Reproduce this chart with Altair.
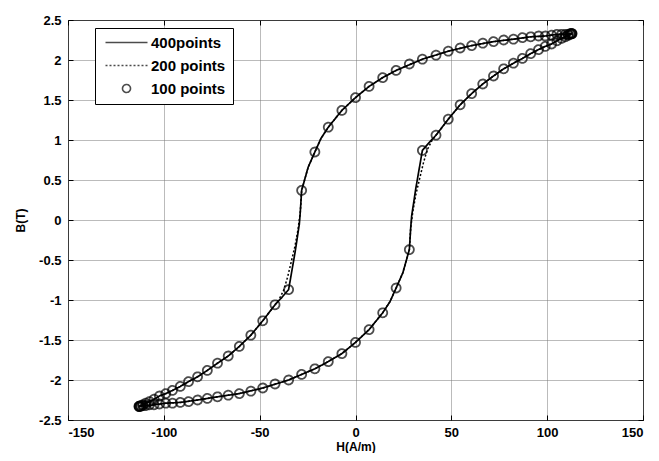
import altair as alt
import pandas as pd

SERIES = ["400points", "200 points", "100 points"]

# ---- 100 points (circles): descending branch then ascending branch ----
h100_down = [113.0, 112.8, 112.1, 111.0, 109.5, 107.5, 105.1, 102.3, 99.0, 95.5,
             91.4, 87.1, 82.4, 77.3, 72.0, 66.4, 60.6, 54.6, 48.4, 42.0,
             34.9, 28.1, 21.2, 14.2, 7.1, 0.0, -7.1, -14.2, -21.2, -28.1,
             -34.9, -42.0, -48.4, -54.6, -60.6, -66.4, -72.0, -77.3, -82.4, -87.1,
             -91.4, -95.5, -99.0, -102.3, -105.1, -107.5, -109.5, -111.0, -112.1, -112.8]
b100_down = [2.33, 2.33, 2.33, 2.32, 2.32, 2.32, 2.32, 2.31, 2.30, 2.30,
             2.29, 2.28, 2.26, 2.25, 2.23, 2.21, 2.18, 2.15, 2.11, 2.06,
             2.01, 1.95, 1.87, 1.78, 1.67, 1.53, 1.37, 1.16, 0.85, 0.37,
             -0.87, -1.06, -1.26, -1.44, -1.58, -1.70, -1.79, -1.88, -1.96, -2.02,
             -2.08, -2.13, -2.17, -2.20, -2.24, -2.27, -2.29, -2.31, -2.32, -2.33]
h100_up = [-113.0, -112.8, -112.1, -111.0, -109.5, -107.5, -105.1, -102.3, -99.0, -95.5,
           -91.4, -87.1, -82.4, -77.3, -72.0, -66.4, -60.6, -54.6, -48.4, -42.0,
           -34.9, -28.1, -21.2, -14.2, -7.1, 0.0, 7.1, 14.2, 21.2, 28.1,
           34.9, 42.0, 48.4, 54.6, 60.6, 66.4, 72.0, 77.3, 82.4, 87.1,
           91.4, 95.5, 99.0, 102.3, 105.1, 107.5, 109.5, 111.0, 112.1, 112.8]
b100_up = [-2.33, -2.33, -2.33, -2.32, -2.32, -2.31, -2.31, -2.30, -2.29, -2.29,
           -2.28, -2.27, -2.25, -2.23, -2.21, -2.19, -2.17, -2.14, -2.10, -2.05,
           -2.00, -1.93, -1.86, -1.77, -1.67, -1.53, -1.37, -1.16, -0.85, -0.37,
           0.87, 1.06, 1.26, 1.44, 1.58, 1.70, 1.80, 1.89, 1.96, 2.02,
           2.08, 2.13, 2.17, 2.20, 2.24, 2.27, 2.29, 2.31, 2.32, 2.33]

# ---- 400 points (solid line) ----
h400 = [113.0, 109.5, 105.1, 99.0, 91.4, 82.4, 72.0, 60.6, 48.4, 34.9,
        21.2, 14.2, 7.1, 0.0, -7.1, -14.2, -18.0, -21.2, -24.7, -28.1,
        -28.8, -29.3, -31.5, -34.9, -38.5, -42.0, -48.4, -54.6, -60.6, -66.4,
        -72.0, -77.3, -82.4, -87.1, -91.4, -95.5, -99.0, -102.3, -105.1, -107.5,
        -109.5, -111.0, -112.1, -113.0,
        -109.5, -105.1, -99.0, -91.4, -82.4, -72.0, -60.6, -48.4, -34.9, -21.2,
        -14.2, -7.1, 0.0, 7.1, 14.2, 18.0, 21.2, 24.7, 28.1, 28.8,
        29.3, 31.5, 34.9, 38.5, 42.0, 48.4, 54.6, 60.6, 66.4, 72.0,
        77.3, 82.4, 87.1, 91.4, 95.5, 99.0, 102.3, 105.1, 107.5, 109.5,
        111.0, 112.1, 113.0]
b400 = [2.33, 2.32, 2.32, 2.30, 2.29, 2.26, 2.23, 2.18, 2.11, 2.01,
        1.87, 1.78, 1.67, 1.53, 1.37, 1.16, 1.02, 0.85, 0.66, 0.37,
        0.10, -0.05, -0.40, -0.87, -0.97, -1.06, -1.26, -1.44, -1.58, -1.70,
        -1.79, -1.88, -1.96, -2.02, -2.08, -2.13, -2.17, -2.20, -2.24, -2.27,
        -2.29, -2.31, -2.32, -2.33,
        -2.32, -2.31, -2.29, -2.28, -2.25, -2.21, -2.17, -2.10, -2.00, -1.86,
        -1.77, -1.67, -1.53, -1.37, -1.16, -1.02, -0.85, -0.66, -0.37, -0.10,
        0.05, 0.40, 0.87, 0.97, 1.06, 1.26, 1.44, 1.58, 1.70, 1.80,
        1.89, 1.96, 2.02, 2.08, 2.13, 2.17, 2.20, 2.24, 2.27, 2.29,
        2.31, 2.32, 2.33]

# ---- 200 points (dotted line) ----
h200 = [113.0, 109.5, 105.1, 99.0, 91.4, 82.4, 72.0, 60.6, 48.4, 34.9,
        21.2, 14.2, 7.1, 0.0, -7.1, -14.2, -18.0, -21.2, -24.7, -28.1,
        -28.8, -30.0, -31.6, -33.5, -35.5, -37.5, -39.8, -42.0, -48.4, -54.6,
        -60.6, -66.4, -72.0, -77.3, -82.4, -87.1, -91.4, -95.5, -99.0, -102.3,
        -105.1, -107.5, -109.5, -111.0, -112.1, -113.0,
        -109.5, -105.1, -99.0, -91.4, -82.4, -72.0, -60.6, -48.4, -34.9, -21.2,
        -14.2, -7.1, 0.0, 7.1, 14.2, 18.0, 21.2, 24.7, 28.1, 28.8,
        30.0, 31.6, 33.5, 35.5, 37.5, 39.8, 42.0, 48.4, 54.6, 60.6,
        66.4, 72.0, 77.3, 82.4, 87.1, 91.4, 95.5, 99.0, 102.3, 105.1,
        107.5, 109.5, 111.0, 112.1, 113.0]
b200 = [2.33, 2.32, 2.32, 2.30, 2.29, 2.26, 2.23, 2.18, 2.11, 2.01,
        1.87, 1.78, 1.67, 1.53, 1.37, 1.16, 1.02, 0.85, 0.66, 0.37,
        0.10, -0.12, -0.33, -0.52, -0.72, -0.88, -0.99, -1.06, -1.26, -1.44,
        -1.58, -1.70, -1.79, -1.88, -1.96, -2.02, -2.08, -2.13, -2.17, -2.20,
        -2.24, -2.27, -2.29, -2.31, -2.32, -2.33,
        -2.32, -2.31, -2.29, -2.28, -2.25, -2.21, -2.17, -2.10, -2.00, -1.86,
        -1.77, -1.67, -1.53, -1.37, -1.16, -1.02, -0.85, -0.66, -0.37, -0.10,
        0.12, 0.33, 0.52, 0.72, 0.88, 0.99, 1.06, 1.26, 1.44, 1.58,
        1.70, 1.80, 1.89, 1.96, 2.02, 2.08, 2.13, 2.17, 2.20, 2.24,
        2.27, 2.29, 2.31, 2.32, 2.33]

x_ticks = [-150, -100, -50, 0, 50, 100, 150]
y_ticks = [-2.5, -2, -1.5, -1, -0.5, 0, 0.5, 1, 1.5, 2, 2.5]

df400 = pd.DataFrame({"H": h400, "B": b400, "series": SERIES[0], "idx": range(len(h400))})
df200 = pd.DataFrame({"H": h200, "B": b200, "series": SERIES[1], "idx": range(len(h200))})
pts_df = pd.DataFrame({"H": h100_down + h100_up, "B": b100_down + b100_up, "series": SERIES[2]})

FONT = "Liberation Sans"
LINE_PATH = "M-5.25,0L5.25,0"
W, H = 575, 400

xs = alt.Scale(domain=[-150, 150], nice=False)
ys = alt.Scale(domain=[-2.5, 2.5], nice=False)

# main labelled axes (with grid)
x_main = alt.X("H:Q", scale=xs, axis=alt.Axis(values=x_ticks, title="H(A/m)", labelExpr="'' + datum.value",
                                              grid=True, ticks=False))
y_main = alt.Y("B:Q", scale=ys, axis=alt.Axis(values=y_ticks, title="B(T)", labelExpr="'' + datum.value",
                                              grid=True, ticks=False))

def tick_axis(orient, offset, vals):
    return alt.Axis(values=vals, orient=orient, offset=offset, labels=False, title=None, grid=False,
                    ticks=True, tickSize=5, tickColor="black", tickWidth=1, domain=False)

# inward ticks: bottom edge / left edge
x_in_bottom = alt.X("H:Q", scale=xs, axis=tick_axis("top", -H, x_ticks))
y_in_left = alt.Y("B:Q", scale=ys, axis=tick_axis("right", -W, y_ticks))
# inward ticks: top edge / right edge
x_in_top = alt.X("H:Q", scale=xs, axis=tick_axis("bottom", -H, x_ticks))
y_in_right = alt.Y("B:Q", scale=ys, axis=tick_axis("left", -W, y_ticks))

dash_scale = alt.Scale(domain=SERIES, range=[[1, 0], [2, 2], [1, 0]])
shape_scale = alt.Scale(domain=SERIES, range=[LINE_PATH, LINE_PATH, "circle"])

leg = alt.Legend(
    title=None, orient="none", legendX=27, legendY=8,
    fillColor="white", strokeColor="black", padding=7,
    labelFont=FONT, labelFontSize=15, labelFontWeight="bold", labelColor="black",
    symbolSize=64, symbolStrokeWidth=1.6, symbolStrokeColor="black",
    symbolOffset=17, labelOffset=17, rowPadding=7, cornerRadius=0,
)

line400 = alt.Chart(df400).mark_line(color="black", strokeWidth=1.7).encode(
    x=x_main, y=y_main,
    strokeDash=alt.StrokeDash("series:N", scale=dash_scale, legend=leg),
    order="idx:Q",
)
line200 = alt.Chart(df200).mark_line(color="black", strokeWidth=1.5).encode(
    x=x_in_bottom, y=y_in_left,
    strokeDash=alt.StrokeDash("series:N", scale=dash_scale, legend=leg),
    order="idx:Q",
)
points = alt.Chart(pts_df).mark_point(color="black", filled=False, size=81, strokeWidth=1.8).encode(
    x=x_in_top, y=y_in_right,
    shape=alt.Shape("series:N", scale=shape_scale, legend=leg),
    strokeDash=alt.StrokeDash("series:N", scale=dash_scale, legend=leg),
)

chart = alt.layer(line400, line200, points).properties(
    width=W, height=H,
    autosize=alt.AutoSizeParams(type="none"),
    padding={"left": 60, "top": 12, "right": 8, "bottom": 33},
).configure_view(
    stroke="black", strokeWidth=1,
).configure_axis(
    labelFont=FONT, labelFontSize=13, labelFontWeight="bold", labelColor="black",
    titleFont=FONT, titleFontSize=12, titleFontWeight="bold", titleColor="black",
    gridColor="#777777", gridDash=[1, 1], gridWidth=1,
    domain=False,
).configure_axisX(
    labelPadding=6, titlePadding=2,
).configure_axisY(
    labelPadding=7, titlePadding=11,
)

chart.save("out.html", embed_options={"renderer": "svg", "actions": False})
